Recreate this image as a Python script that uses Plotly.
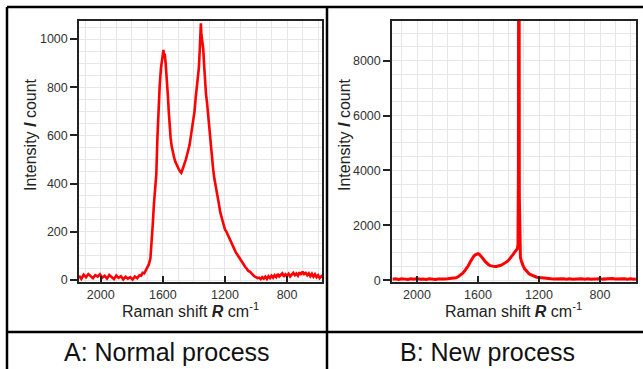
import plotly.graph_objects as go

# ---------------- data ----------------
shift_a = [2140, 2125, 2110, 2095, 2080, 2065, 2050, 2035, 2020, 2005, 1990, 1975, 1960, 1945, 1930, 1915,
           1900, 1885, 1870, 1855, 1840, 1825, 1810, 1795, 1780, 1765, 1750, 1740, 1730, 1720, 1710, 1700,
           1690, 1680, 1672, 1665, 1658, 1650, 1642, 1635, 1628, 1620, 1612, 1606, 1600, 1596, 1592, 1588,
           1582, 1577, 1572, 1567, 1562, 1556, 1550, 1543, 1536, 1528, 1520, 1512, 1504, 1496, 1488, 1481,
           1474, 1467, 1460, 1452, 1444, 1436, 1428, 1420, 1412, 1404, 1396, 1388, 1380, 1374, 1368, 1362,
           1358, 1355, 1352, 1348, 1344, 1340, 1334, 1328, 1322, 1316, 1308, 1300, 1292, 1284, 1276, 1268,
           1260, 1250, 1240, 1230, 1220, 1210, 1200, 1190, 1180, 1170, 1160, 1150, 1140, 1130, 1120, 1110,
           1100, 1090, 1080, 1070, 1060, 1050, 1040, 1030, 1020, 1010, 1000, 990, 980, 970, 960, 950, 940,
           930, 920, 910, 900, 890, 880, 870, 860, 850, 840, 830, 820, 810, 800, 790, 780, 770, 760, 750,
           740, 730, 720, 710, 700, 690, 680, 670, 660, 650, 640, 630, 620, 610, 600, 590, 580, 575]
count_a = [18, 5, 22, 12, 25, 15, 8, 20, 14, 24, 10, 18, 6, 21, 13, 4,
           19, 9, 16, 3, 14, 6, 12, 2, 15, 8, 20, 18, 30, 28, 40, 52,
           65, 90, 150, 230, 310, 360, 440, 590, 730, 810, 880, 905, 930, 955, 920, 940,
           900, 860, 820, 760, 700, 630, 590, 555, 530, 510, 492, 478, 465, 458, 450, 445,
           458, 470, 482, 500, 520, 540, 560, 595, 625, 655, 700, 760, 800, 850, 880, 960,
           1030, 1065, 1020, 1000, 990, 960, 890, 820, 770, 740, 680, 620, 560, 500, 460, 420,
           395, 360, 320, 280, 255, 230, 210, 200, 185, 175, 160, 145, 130, 115, 105, 95,
           82, 72, 62, 55, 48, 38, 35, 27, 22, 15, 12, 8, 10, 4, 12, 6, 14,
           5, 16, 8, 18, 10, 20, 12, 25, 15, 22, 28, 14, 24, 18, 26, 15, 22, 30, 20,
           27, 18, 32, 22, 35, 25, 30, 20, 28, 16, 26, 14, 24, 12, 20, 8, 15, 10]

shift_b = [2160, 2140, 2120, 2100, 2080, 2060, 2040, 2020, 2000, 1980, 1960, 1940, 1920, 1900, 1880, 1860,
           1840, 1820, 1800, 1780, 1760, 1745, 1730, 1715, 1700, 1688, 1676, 1664, 1652, 1640, 1630, 1620,
           1610, 1600, 1592, 1584, 1576, 1568, 1560, 1552, 1544, 1536, 1528, 1520, 1510, 1500, 1490, 1480,
           1470, 1460, 1450, 1440, 1430, 1420, 1410, 1400, 1390, 1380, 1372, 1364, 1356, 1348, 1342, 1338,
           1335, 1333, 1331, 1329, 1326, 1322, 1316, 1310, 1302, 1294, 1285, 1275, 1265, 1255, 1245, 1235,
           1225, 1215, 1200, 1185, 1170, 1155, 1140, 1120, 1100, 1080, 1060, 1040, 1020, 1000, 980, 960,
           940, 920, 900, 880, 860, 840, 820, 800, 780, 760, 740, 720, 700, 680, 660, 640, 620, 600, 580, 565]
count_b = [40, 55, 35, 60, 45, 30, 55, 40, 62, 38, 50, 35, 58, 42, 30, 52,
           40, 48, 55, 62, 75, 95, 130, 185, 260, 340, 420, 530, 660, 780, 860, 920,
           960, 975, 955, 910, 860, 800, 740, 680, 630, 590, 560, 535, 515, 505, 500, 505,
           515, 530, 550, 575, 605, 640, 680, 730, 790, 860, 930, 990, 1050, 1100, 1150, 1300,
           4000, 15000, 15000, 3000, 1100, 850, 700, 600, 500, 420, 350, 290, 240, 205, 175, 150,
           130, 115, 100, 88, 78, 70, 62, 55, 50, 58, 42, 55, 45, 60, 40, 52,
           38, 55, 45, 60, 42, 55, 48, 62, 45, 58, 50, 65, 48, 60, 45, 58, 42, 55, 40, 50]

x_ticks = [2000, 1600, 1200, 800]
y_ticks_a = [0, 200, 400, 600, 800, 1000]
y_ticks_b = [0, 2000, 4000, 6000, 8000]
captions = ["A: Normal process", "B: New process"]

# ---------------- figure ----------------
W, H = 643, 369
FONT = "Liberation Sans, Arial, sans-serif"
RED = "#ff0000"

fig = go.Figure()
fig.add_trace(go.Scatter(x=shift_a, y=count_a, mode="lines", line=dict(color=RED, width=2.6),
                         xaxis="x", yaxis="y", showlegend=False, hoverinfo="skip"))
fig.add_trace(go.Scatter(x=shift_b, y=count_b, mode="lines", line=dict(color=RED, width=3),
                         xaxis="x2", yaxis="y2", showlegend=False, hoverinfo="skip"))

def px_x(p):
    return p / W

def px_y(p):
    return 1 - p / H

ydom = [px_y(282), px_y(21)]
grid_c = "#e6e6e6"
common_x = dict(autorange=False, automargin=False, tickvals=x_ticks, ticks="inside", ticklen=6,
                tickwidth=1.5, tickcolor="#222", showline=True, linecolor="#222", linewidth=1.5,
                mirror=True, showgrid=True, gridcolor=grid_c, gridwidth=1, zeroline=False,
                minor=dict(dtick=100, showgrid=True, gridcolor=grid_c, gridwidth=1, ticks=""),
                tickfont=dict(family=FONT, size=12.5, color="#333"))
common_y = dict(autorange=False, automargin=False, ticks="outside", ticklen=7, tickwidth=1.5,
                tickcolor="#222", showline=True, linecolor="#222", linewidth=1.5, mirror=True,
                showgrid=True, gridcolor=grid_c, gridwidth=1, zeroline=False,
                tickfont=dict(family=FONT, size=12.5, color="#333"))

fig.update_layout(
    width=W, height=H, margin=dict(l=0, r=0, t=0, b=0, autoexpand=False),
    paper_bgcolor="white", plot_bgcolor="white",
    xaxis=dict(common_x, domain=[px_x(79), px_x(322)], range=[2140, 575], anchor="y"),
    yaxis=dict(common_y, domain=ydom, range=[-8, 1075], tickvals=y_ticks_a,
               minor=dict(dtick=50, showgrid=True, gridcolor=grid_c, ticks=""), anchor="x"),
    xaxis2=dict(common_x, domain=[px_x(392), px_x(636)], range=[2164, 564], anchor="y2"),
    yaxis2=dict(common_y, domain=ydom, range=[-60, 9440], tickvals=y_ticks_b,
                minor=dict(dtick=500, showgrid=True, gridcolor=grid_c, ticks=""), anchor="x2"),
)

# table borders
line = dict(color="black", width=2.5)
for x0, y0, x1, y1 in [(7, 7, 650, 7), (7, 7, 7, 380), (327, 7, 327, 380), (7, 332, 650, 332)]:
    fig.add_shape(type="line", xref="paper", yref="paper",
                  x0=px_x(x0), y0=px_y(y0), x1=px_x(x1), y1=px_y(y1), line=line)

annots = []
ytitle = "Intensity <b><i>I</i></b> count"
xtitle = "Raman shift <b><i>R</i></b> cm<sup>-1</sup>"
for cx in (30, 344):
    annots.append(dict(x=px_x(cx), y=px_y(135), xref="paper", yref="paper", text=ytitle,
                       textangle=-90, showarrow=False, font=dict(family=FONT, size=16, color="#222"),
                       xanchor="center", yanchor="middle"))
for cx in (190, 513):
    annots.append(dict(x=px_x(cx), y=px_y(310), xref="paper", yref="paper", text=xtitle,
                       showarrow=False, font=dict(family=FONT, size=16, color="#222"),
                       xanchor="center", yanchor="middle"))
for cx, txt in zip((167, 487), captions):
    annots.append(dict(x=px_x(cx), y=px_y(352), xref="paper", yref="paper", text=txt,
                       showarrow=False, font=dict(family=FONT, size=25, color="#111"),
                       xanchor="center", yanchor="middle"))
fig.update_layout(annotations=annots)

fig.write_html("out.html", config=dict(displayModeBar=False),
               post_script="document.body.style.margin='0';document.body.style.overflow='hidden';")
